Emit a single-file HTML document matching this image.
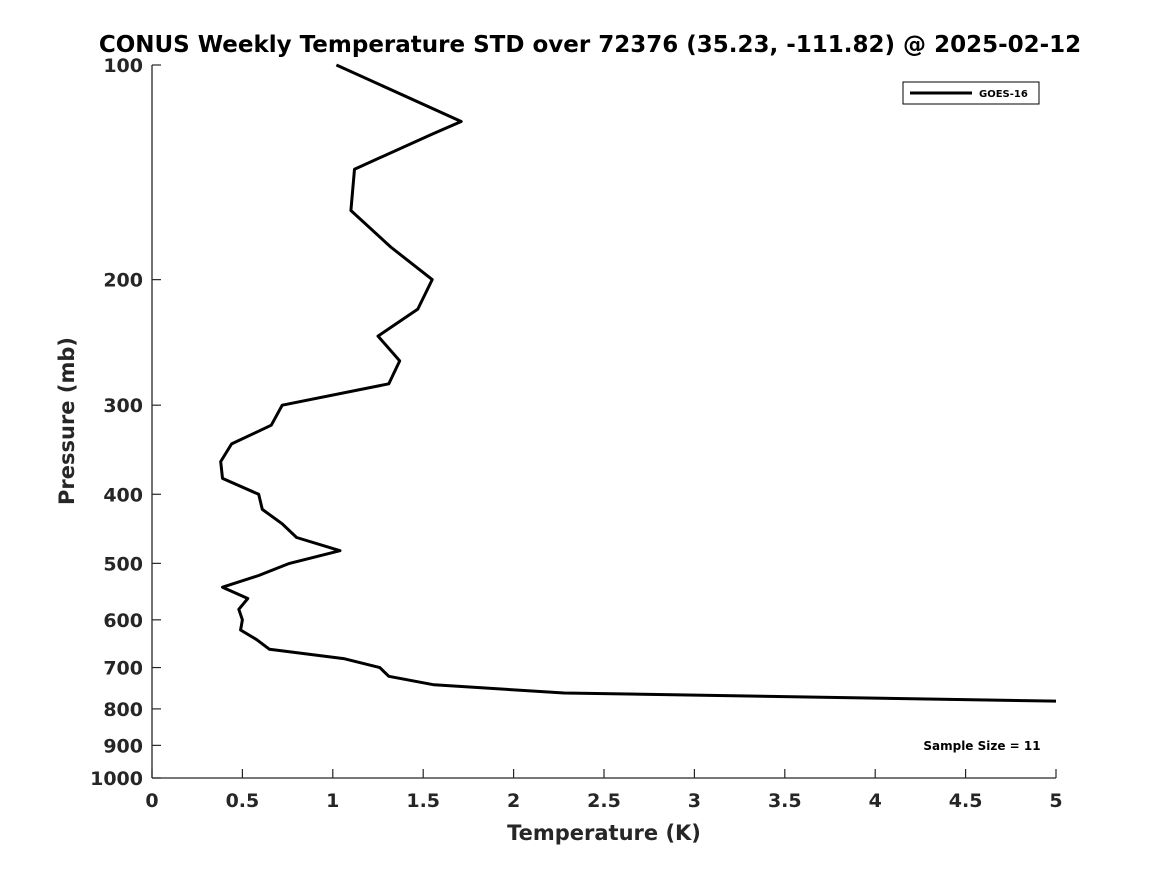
<!DOCTYPE html>
<html><head><meta charset="utf-8"><style>
html,body{margin:0;padding:0;background:#fff;}
svg{display:block;font-family:"DejaVu Sans","Liberation Sans",sans-serif;}
</style></head><body>
<svg id="chart" width="1167" height="875" viewBox="0 0 1167 875">
<text x="590" y="52" text-anchor="middle" font-size="23" font-weight="bold" fill="#000">CONUS Weekly Temperature STD over 72376 (35.23, -111.82) @ 2025-02-12</text>
<g id="axes"></g>
<g id="series"></g>
<g>
<rect x="903" y="82" width="136" height="22" fill="#fff" stroke="#000" stroke-width="1"/>
<line x1="910" y1="93" x2="972" y2="93" stroke="#000" stroke-width="3"/>
<text x="979" y="97" font-size="10" font-weight="bold">GOES-16</text>
</g>
<text x="982" y="750" text-anchor="middle" font-size="12" font-weight="bold">Sample Size = 11</text>
<text x="604" y="840" text-anchor="middle" font-size="21" font-weight="bold" fill="#262626">Temperature (K)</text>
<text transform="translate(74,421) rotate(-90)" text-anchor="middle" font-size="21" font-weight="bold" fill="#262626">Pressure (mb)</text>
</svg>
<script>
const pressures=[100,120,125,140,160,180,200,220,240,260,280,300,320,340,360,380,400,420,440,460,480,500,520,540,560,580,600,620,640,660,680,700,720,740,760,780];
const temps=[1.02,1.71,1.55,1.12,1.10,1.32,1.55,1.47,1.25,1.37,1.31,0.72,0.66,0.44,0.38,0.39,0.59,0.61,0.72,0.80,1.04,0.76,0.59,0.39,0.53,0.48,0.50,0.49,0.58,0.65,1.06,1.26,1.31,1.56,2.28,5.0];
const xTicks=[0,0.5,1,1.5,2,2.5,3,3.5,4,4.5,5];
const yTicks=[100,200,300,400,500,600,700,800,900,1000];
const X0=152,X1=1056,Y0=65,Y1=778;
function xs(v){return X0+(v-0)/(5-0)*(X1-X0);}
function ys(p){return Y0+Math.log10(p/100)*(Y1-Y0);}
const NS="http://www.w3.org/2000/svg";
const axes=document.getElementById('axes');
function mk(t,a,parent){const e=document.createElementNS(NS,t);for(const k in a)e.setAttribute(k,a[k]);parent.appendChild(e);return e;}
const yax=mk('line',{x1:X0,y1:Y0,x2:X0,y2:Y1,stroke:'#262626','stroke-width':1.3},axes);


const xax=mk('line',{x1:X0,y1:Y1,x2:X1,y2:Y1,stroke:'#262626','stroke-width':1.3},axes);


xTicks.forEach(v=>{
  mk('line',{x1:xs(v),y1:Y1,x2:xs(v),y2:Y1-9,stroke:'#262626','stroke-width':1.2},axes);
  const t=mk('text',{x:xs(v),y:Y1+29,'text-anchor':'middle','font-size':19,'font-weight':'bold',fill:'#262626'},axes);
  t.textContent=v;
  
  
});
yTicks.forEach(p=>{
  mk('line',{x1:X0,y1:ys(p),x2:X0+9,y2:ys(p),stroke:'#262626','stroke-width':1.2},axes);
  const t=mk('text',{x:X0-9,y:ys(p)+7,'text-anchor':'end','font-size':19,'font-weight':'bold',fill:'#262626'},axes);
  t.textContent=p;
  
  
});
const pts=pressures.map((p,i)=>xs(temps[i]).toFixed(1)+','+ys(p).toFixed(1)).join(' ');
const line=mk('polyline',{points:pts,fill:'none',stroke:'#000','stroke-width':3,'stroke-linejoin':'round'},document.getElementById('series'));


</script>
</body></html>
